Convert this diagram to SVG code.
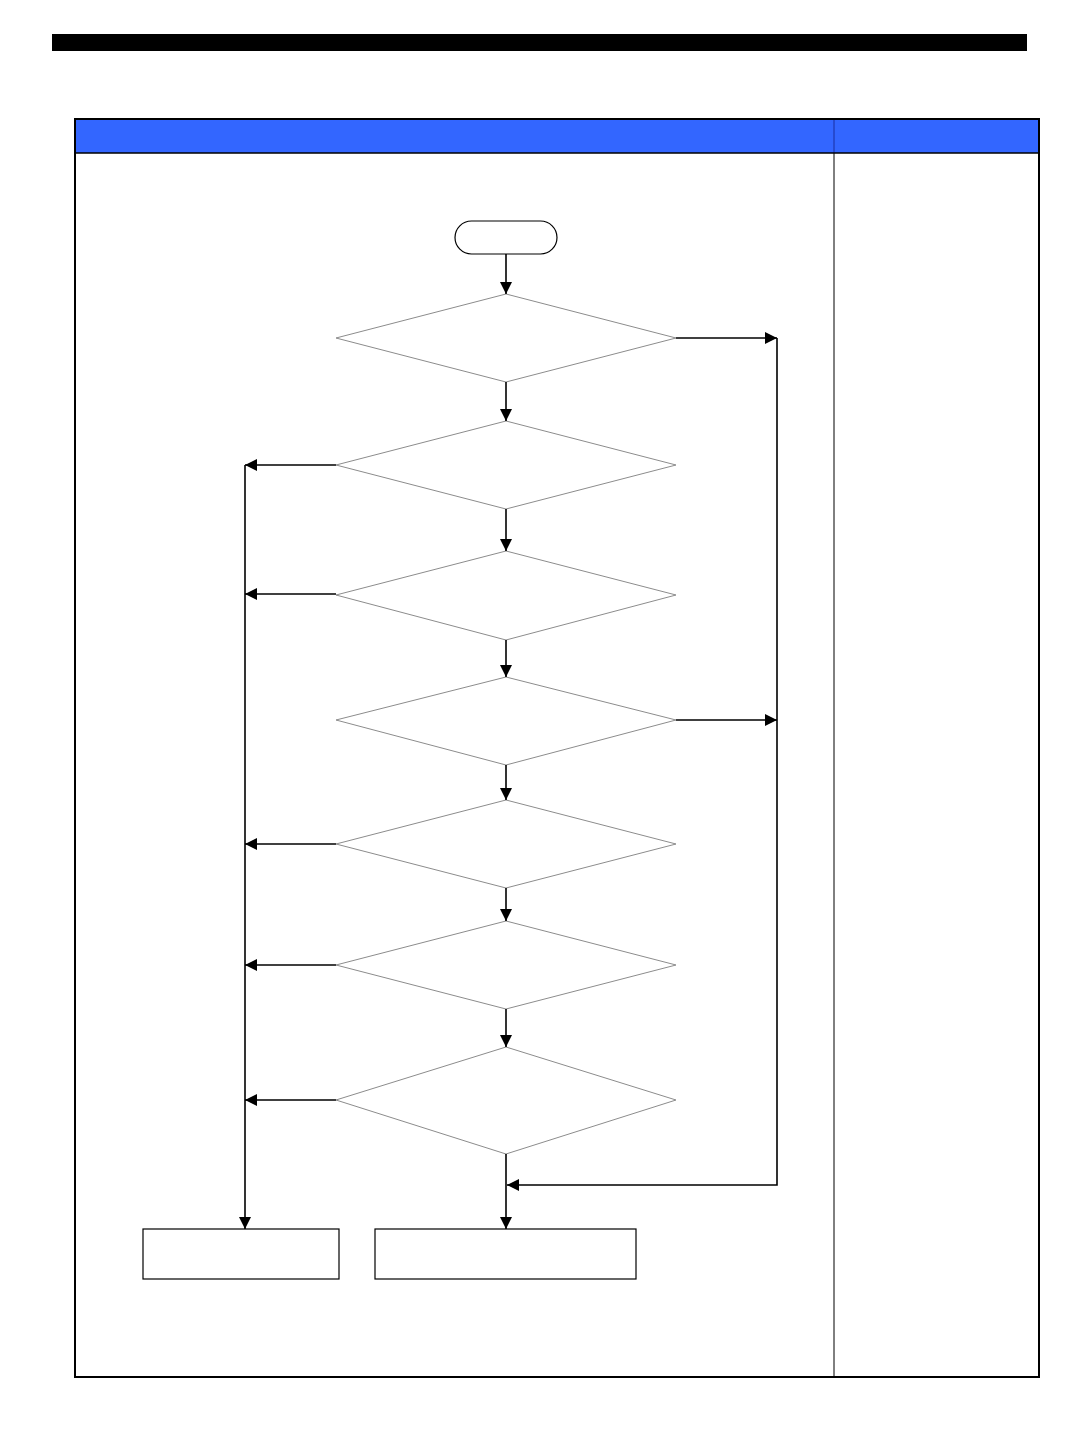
<svg xmlns="http://www.w3.org/2000/svg" width="1080" height="1440" viewBox="0 0 1080 1440">
<style>
.dia{fill:#fff;stroke:#8c8c8c;stroke-width:1}
.box{fill:#fff;stroke:#000;stroke-width:1.2}
.con{fill:none;stroke:#000;stroke-width:1.6}
</style>
<defs>
<marker id="ah" markerUnits="userSpaceOnUse" markerWidth="12" markerHeight="12" viewBox="0 0 12 12" refX="12" refY="6" orient="auto">
<path d="M0,0 L12,6 L0,12 z" fill="#000"/>
</marker>
</defs>
<rect width="1080" height="1440" fill="#fff"/>
<rect x="52" y="34" width="975" height="17" fill="#000"/>
<g id="table">
<rect x="75" y="119" width="964" height="34" fill="#3366ff"/>
<line x1="834" y1="119" x2="834" y2="153" stroke="#1a2fa0" stroke-width="1"/>
<line x1="834" y1="153" x2="834" y2="1377" stroke="#000" stroke-width="1"/>
<line x1="75" y1="153" x2="1039" y2="153" stroke="#000" stroke-width="1.5"/>
<rect x="75" y="119" width="964" height="1258" fill="none" stroke="#000" stroke-width="2"/>
</g>
<g id="start"><rect x="455" y="221" width="102" height="33" rx="16.5" class="box" stroke-width="1.5"/></g>
<g id="d1"><polygon class="dia" points="506,294 676,338 506,382 336,338"/></g>
<g id="d2"><polygon class="dia" points="506,421 676,465 506,509 336,465"/></g>
<g id="d3"><polygon class="dia" points="506,551 676,595 506,640 336,595"/></g>
<g id="d4"><polygon class="dia" points="506,677 676,720 506,765 336,720"/></g>
<g id="d5"><polygon class="dia" points="506,800 676,844 506,888 336,844"/></g>
<g id="d6"><polygon class="dia" points="506,921 676,965 506,1009 336,965"/></g>
<g id="d7"><polygon class="dia" points="506,1047 676,1100 506,1154 336,1100"/></g>
<g id="endLeft"><rect x="143" y="1229" width="196" height="50" class="box"/></g>
<g id="endRight"><rect x="375" y="1229" width="261" height="50" class="box"/></g>
<g id="connectors" class="con">
<path d="M506,254 V294" marker-end="url(#ah)"/>
<path d="M506,382 V421" marker-end="url(#ah)"/>
<path d="M506,509 V551" marker-end="url(#ah)"/>
<path d="M506,640 V677" marker-end="url(#ah)"/>
<path d="M506,765 V800" marker-end="url(#ah)"/>
<path d="M506,888 V921" marker-end="url(#ah)"/>
<path d="M506,1009 V1047" marker-end="url(#ah)"/>
<path d="M506,1154 V1229" marker-end="url(#ah)"/>
<path d="M676,338 H777" marker-end="url(#ah)"/>
<path d="M676,720 H777" marker-end="url(#ah)"/>
<path d="M777,338 V1185 H507" marker-end="url(#ah)"/>
<path d="M336,465 H245" marker-end="url(#ah)"/>
<path d="M336,594 H245" marker-end="url(#ah)"/>
<path d="M336,844 H245" marker-end="url(#ah)"/>
<path d="M336,965 H245" marker-end="url(#ah)"/>
<path d="M336,1100 H245" marker-end="url(#ah)"/>
<path d="M245,465 V1229" marker-end="url(#ah)"/>
</g>
</svg>
